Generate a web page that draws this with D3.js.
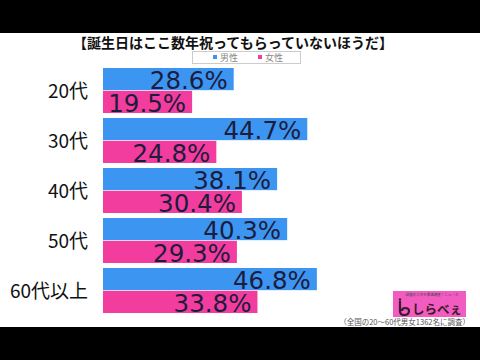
<!DOCTYPE html>
<html>
<head>
<meta charset="utf-8">
<script src="https://cdn.jsdelivr.net/npm/d3@7"></script>
<style>
  body { margin: 0; background: #000; }
  svg { display: block; }
</style>
</head>
<body>
<div id="chart"></div>
<script>
var categories = ["20代", "30代", "40代", "50代", "60代以上"];
var series = ["男性", "女性"];
var male = [28.6, 44.7, 38.1, 40.3, 46.8];
var female = [19.5, 24.8, 30.4, 29.3, 33.8];

var colors = { "男性": "#3d95f2", "女性": "#f23c9e" };
var jp = "'Noto Sans CJK JP', sans-serif";

var svg = d3.select("#chart").append("svg")
  .attr("width", 480)
  .attr("height", 360);

// white picture area between the black bands
svg.append("rect").attr("x", 0).attr("y", 33).attr("width", 480).attr("height", 294).attr("fill", "#fff");

svg.append("text")
  .attr("x", 233).attr("y", 48)
  .attr("text-anchor", "middle")
  .attr("font-family", jp).attr("font-weight", "bold").attr("font-size", 14)
  .attr("fill", "#111")
  .text("【誕生日はここ数年祝ってもらっていないほうだ】");

// legend
svg.append("rect").attr("x", 192.5).attr("y", 51.5).attr("width", 108).attr("height", 12)
  .attr("fill", "#fff").attr("stroke", "#ccc");
var leg = svg.selectAll("g.leg").data(series).enter().append("g").attr("class", "leg")
  .attr("transform", function (d, i) { return "translate(" + (213 + i * 45) + ",0)"; });
leg.append("rect").attr("x", 0).attr("y", 55).attr("width", 4).attr("height", 4)
  .attr("fill", function (d) { return colors[d]; });
leg.append("text").attr("x", 7).attr("y", 61)
  .attr("font-family", jp).attr("font-size", 9).attr("fill", "#888")
  .text(function (d) { return d; });

var x = d3.scaleLinear().domain([0, 50]).range([103, 331.5]);
var y0 = d3.scaleBand().domain(categories).range([68, 313]).paddingInner(0.1).paddingOuter(0);
var y1 = d3.scaleBand().domain(series).range([0, y0.bandwidth()]).paddingInner(0.03);

var data = categories.map(function (c, i) {
  return { cat: c, vals: [{ s: "男性", v: male[i] }, { s: "女性", v: female[i] }] };
});

var groups = svg.selectAll("g.grp").data(data).enter().append("g").attr("class", "grp")
  .attr("transform", function (d) { return "translate(0," + y0(d.cat) + ")"; });

groups.append("text")
  .attr("x", 88).attr("y", y0.bandwidth() / 2 + 7)
  .attr("text-anchor", "end")
  .attr("font-family", jp).attr("font-size", 19).attr("fill", "#111")
  .text(function (d) { return d.cat; });

groups.selectAll("rect.bar").data(function (d) { return d.vals; }).enter().append("rect")
  .attr("class", "bar")
  .attr("x", x(0))
  .attr("y", function (d) { return y1(d.s); })
  .attr("width", function (d) { return x(d.v) - x(0); })
  .attr("height", y1.bandwidth())
  .attr("fill", function (d) { return colors[d.s]; });

groups.selectAll("text.val").data(function (d) { return d.vals; }).enter().append("text")
  .attr("class", "val")
  .attr("x", function (d) { return x(d.v) - 6; })
  .attr("y", function (d) { return y1(d.s) + y1.bandwidth() - 1; })
  .attr("text-anchor", "end")
  .attr("font-family", "'DejaVu Sans', sans-serif").attr("font-size", 24.5)
  .attr("fill", "#1c1c3c")
  .text(function (d) { return d.v.toFixed(1) + "%"; });

// logo
svg.append("rect").attr("x", 393).attr("y", 291).attr("width", 73).attr("height", 26).attr("fill", "#f25cc0");
svg.append("text").attr("x", 432).attr("y", 295.5).attr("text-anchor", "middle")
  .attr("font-family", jp).attr("font-size", 3.5).attr("fill", "#444")
  .text("話題のネタを最速調査！ニュース");
svg.append("path")
  .attr("d", "M400,301 L400,311 Q400,315 404,315 Q409,315 409,311 Q409,308 405,308 Q402,308 402,311")
  .attr("fill", "none").attr("stroke", "#3a1a2a").attr("stroke-width", 2.2);
svg.append("circle").attr("cx", 400).attr("cy", 299.5).attr("r", 1.2).attr("fill", "#3a1a2a");
svg.append("text").attr("x", 412).attr("y", 313.5)
  .attr("font-family", jp).attr("font-weight", "bold").attr("font-size", 12.5).attr("fill", "#3a1a2a")
  .text("しらべぇ");

svg.append("text")
  .attr("x", 470).attr("y", 325)
  .attr("text-anchor", "end")
  .attr("font-family", jp).attr("font-size", 7.5).attr("fill", "#555")
  .text("（全国の20～60代男女1362名に調査）");
</script>
</body>
</html>
